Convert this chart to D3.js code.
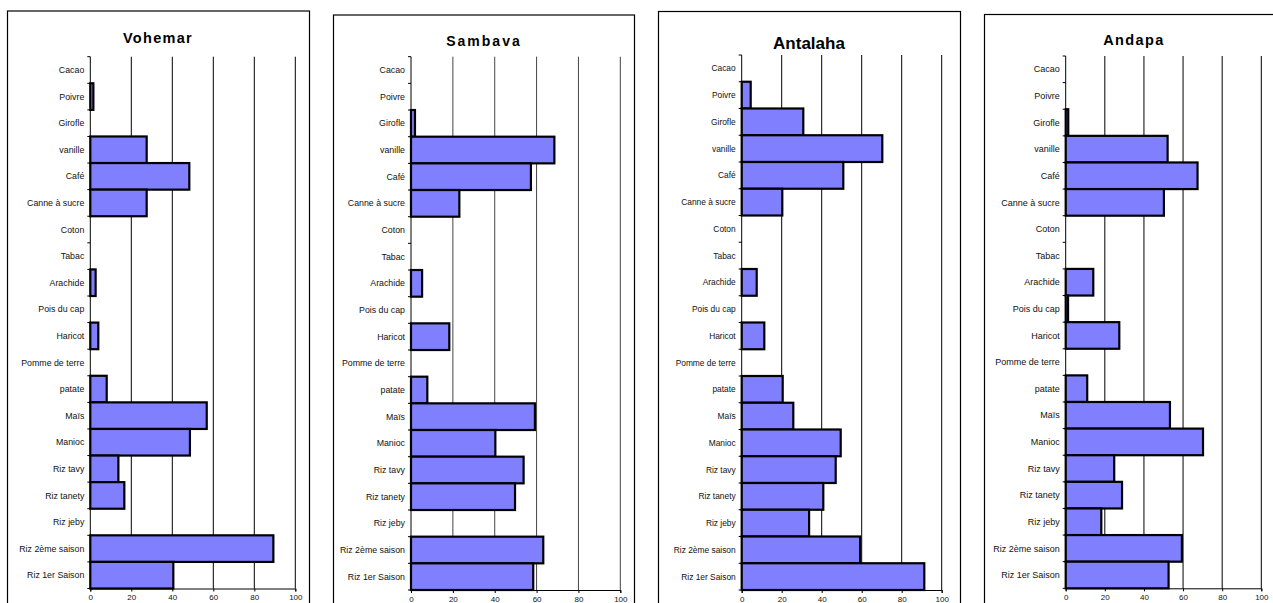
<!DOCTYPE html>
<html>
<head>
<meta charset="utf-8">
<script src="https://cdn.jsdelivr.net/npm/d3@7"></script>
<style>
  html, body { margin: 0; padding: 0; background: #fff; overflow: hidden; }
  svg { display: block; }
  text { font-family: "Liberation Sans", Arial, sans-serif; }
</style>
</head>
<body>
<svg id="chart" width="1273" height="603"></svg>
<script>
const categories = ["Cacao", "Poivre", "Girofle", "vanille", "Café", "Canne à sucre", "Coton", "Tabac",
  "Arachide", "Pois du cap", "Haricot", "Pomme de terre", "patate", "Maïs", "Manioc",
  "Riz tavy", "Riz tanety", "Riz jeby", "Riz 2ème saison", "Riz 1er Saison"];

const titles = ["Vohemar", "Sambava", "Antalaha", "Andapa"];

const vohemar  = [0, 1.5, 0, 27.5, 48.3, 27.5, 0, 0, 2.6, 0, 3.9, 0, 8, 56.8, 48.6, 13.7, 16.6, 0, 89.3, 40.5];
const sambava  = [0, 0, 1.9, 68.5, 57.3, 23.1, 0, 0, 5.3, 0, 18.3, 0, 7.8, 59.2, 40.3, 53.8, 49.7, 0, 63.2, 58.4];
const antalaha = [0, 4.5, 30.8, 70.3, 50.8, 20.3, 0, 0, 7.5, 0, 11.3, 0, 20.5, 25.8, 49.5, 47, 40.8, 33.7, 59.2, 91.3];
const andapa   = [0, 0, 1.3, 52.1, 67.4, 50.2, 0, 0, 14.1, 1.2, 27.4, 0, 11, 53.3, 70.2, 24.8, 28.8, 18.2, 59.4, 52.6];

const xTicks = [0, 20, 40, 60, 80, 100];

const seriesList = [vohemar, sambava, antalaha, andapa];

// layout (positions only)
const panels = [
  { fx0: 7.5,  fx1: 309.5, fy: 11,   x0: 90.3,   x1: 295.3,  yTop: 56.7, yBot: 588.5, tx: 158,  ty: 43, tSize: 14.5, tSpace: 1.3, lSize: 8.8, grid: "#000" },
  { fx0: 333.5, fx1: 634.5, fy: 15,  x0: 411,    x1: 620.3,  yTop: 56.7, yBot: 590,   tx: 484,  ty: 45.5, tSize: 14, tSpace: 2, lSize: 8.8, grid: "#444" },
  { fx0: 658.5, fx1: 960.5, fy: 11.5, x0: 741.7, x1: 941.7,  yTop: 55,   yBot: 590,   tx: 809,  ty: 48.5, tSize: 17, tSpace: 0, lSize: 8.4, grid: "#000" },
  { fx0: 984.5, fx1: 1300, fy: 14.5, x0: 1065.7, x1: 1261.3, yTop: 56,   yBot: 588.3, tx: 1134, ty: 44.5, tSize: 14.5, tSpace: 1.4, lSize: 9, grid: "#000" }
];

const svg = d3.select("#chart");

panels.forEach((p, i) => {
  const values = seriesList[i];
  const g = svg.append("g");

  // frame
  g.append("rect")
    .attr("x", p.fx0).attr("y", p.fy)
    .attr("width", p.fx1 - p.fx0).attr("height", 700)
    .attr("fill", "#fff").attr("stroke", "#000").attr("stroke-width", 1.2);

  // title
  g.append("text")
    .attr("x", p.tx).attr("y", p.ty)
    .attr("text-anchor", "middle")
    .attr("font-size", p.tSize).attr("font-weight", "bold")
    .attr("letter-spacing", p.tSpace)
    .attr("fill", "#000")
    .text(titles[i]);

  const x = d3.scaleLinear().domain([0, 100]).range([p.x0, p.x1]);
  const y = d3.scaleBand().domain(categories).range([p.yTop, p.yBot]).padding(0);

  // gridlines
  g.append("g").selectAll("line")
    .data(xTicks.filter(t => t > 0))
    .join("line")
    .attr("x1", d => x(d)).attr("x2", d => x(d))
    .attr("y1", p.yTop).attr("y2", p.yBot)
    .attr("stroke", p.grid).attr("stroke-width", 1);

  // bars
  g.append("g").selectAll("rect")
    .data(values.map((v, k) => ({ v, c: categories[k] })).filter(d => d.v > 0))
    .join("rect")
    .attr("x", x(0))
    .attr("y", d => y(d.c))
    .attr("width", d => x(d.v) - x(0))
    .attr("height", y.bandwidth())
    .attr("fill", "#8080FF")
    .attr("stroke", "#000")
    .attr("stroke-width", 2.2);

  // y axis
  const yAxisG = g.append("g").attr("transform", `translate(${p.x0},0)`);
  yAxisG.append("line")
    .attr("x1", 0).attr("x2", 0).attr("y1", p.yTop).attr("y2", p.yBot)
    .attr("stroke", "#000").attr("stroke-width", 1);
  const bounds = categories.map(c => y(c)).concat([p.yBot]);
  yAxisG.selectAll("line.tk").data(bounds).join("line").attr("class", "tk")
    .attr("x1", -3).attr("x2", 0).attr("y1", d => d).attr("y2", d => d)
    .attr("stroke", "#000").attr("stroke-width", 1);
  yAxisG.selectAll("text").data(categories).join("text")
    .attr("x", -6)
    .attr("y", d => y(d) + y.bandwidth() / 2)
    .attr("dy", "0.35em")
    .attr("text-anchor", "end")
    .attr("font-size", p.lSize)
    .attr("fill", "#111")
    .text(d => d);

  // x axis
  const xAxis = d3.axisBottom(x).tickValues(xTicks).tickSize(3).tickPadding(3);
  const xg = g.append("g").attr("transform", `translate(0,${p.yBot})`).call(xAxis);
  xg.select(".domain").attr("stroke", "#000");
  xg.selectAll(".tick line").attr("stroke", "#000");
  xg.selectAll(".tick text").attr("font-size", 8).attr("fill", "#111")
    .attr("font-family", "Liberation Sans, Arial, sans-serif");
});
</script>
</body>
</html>
